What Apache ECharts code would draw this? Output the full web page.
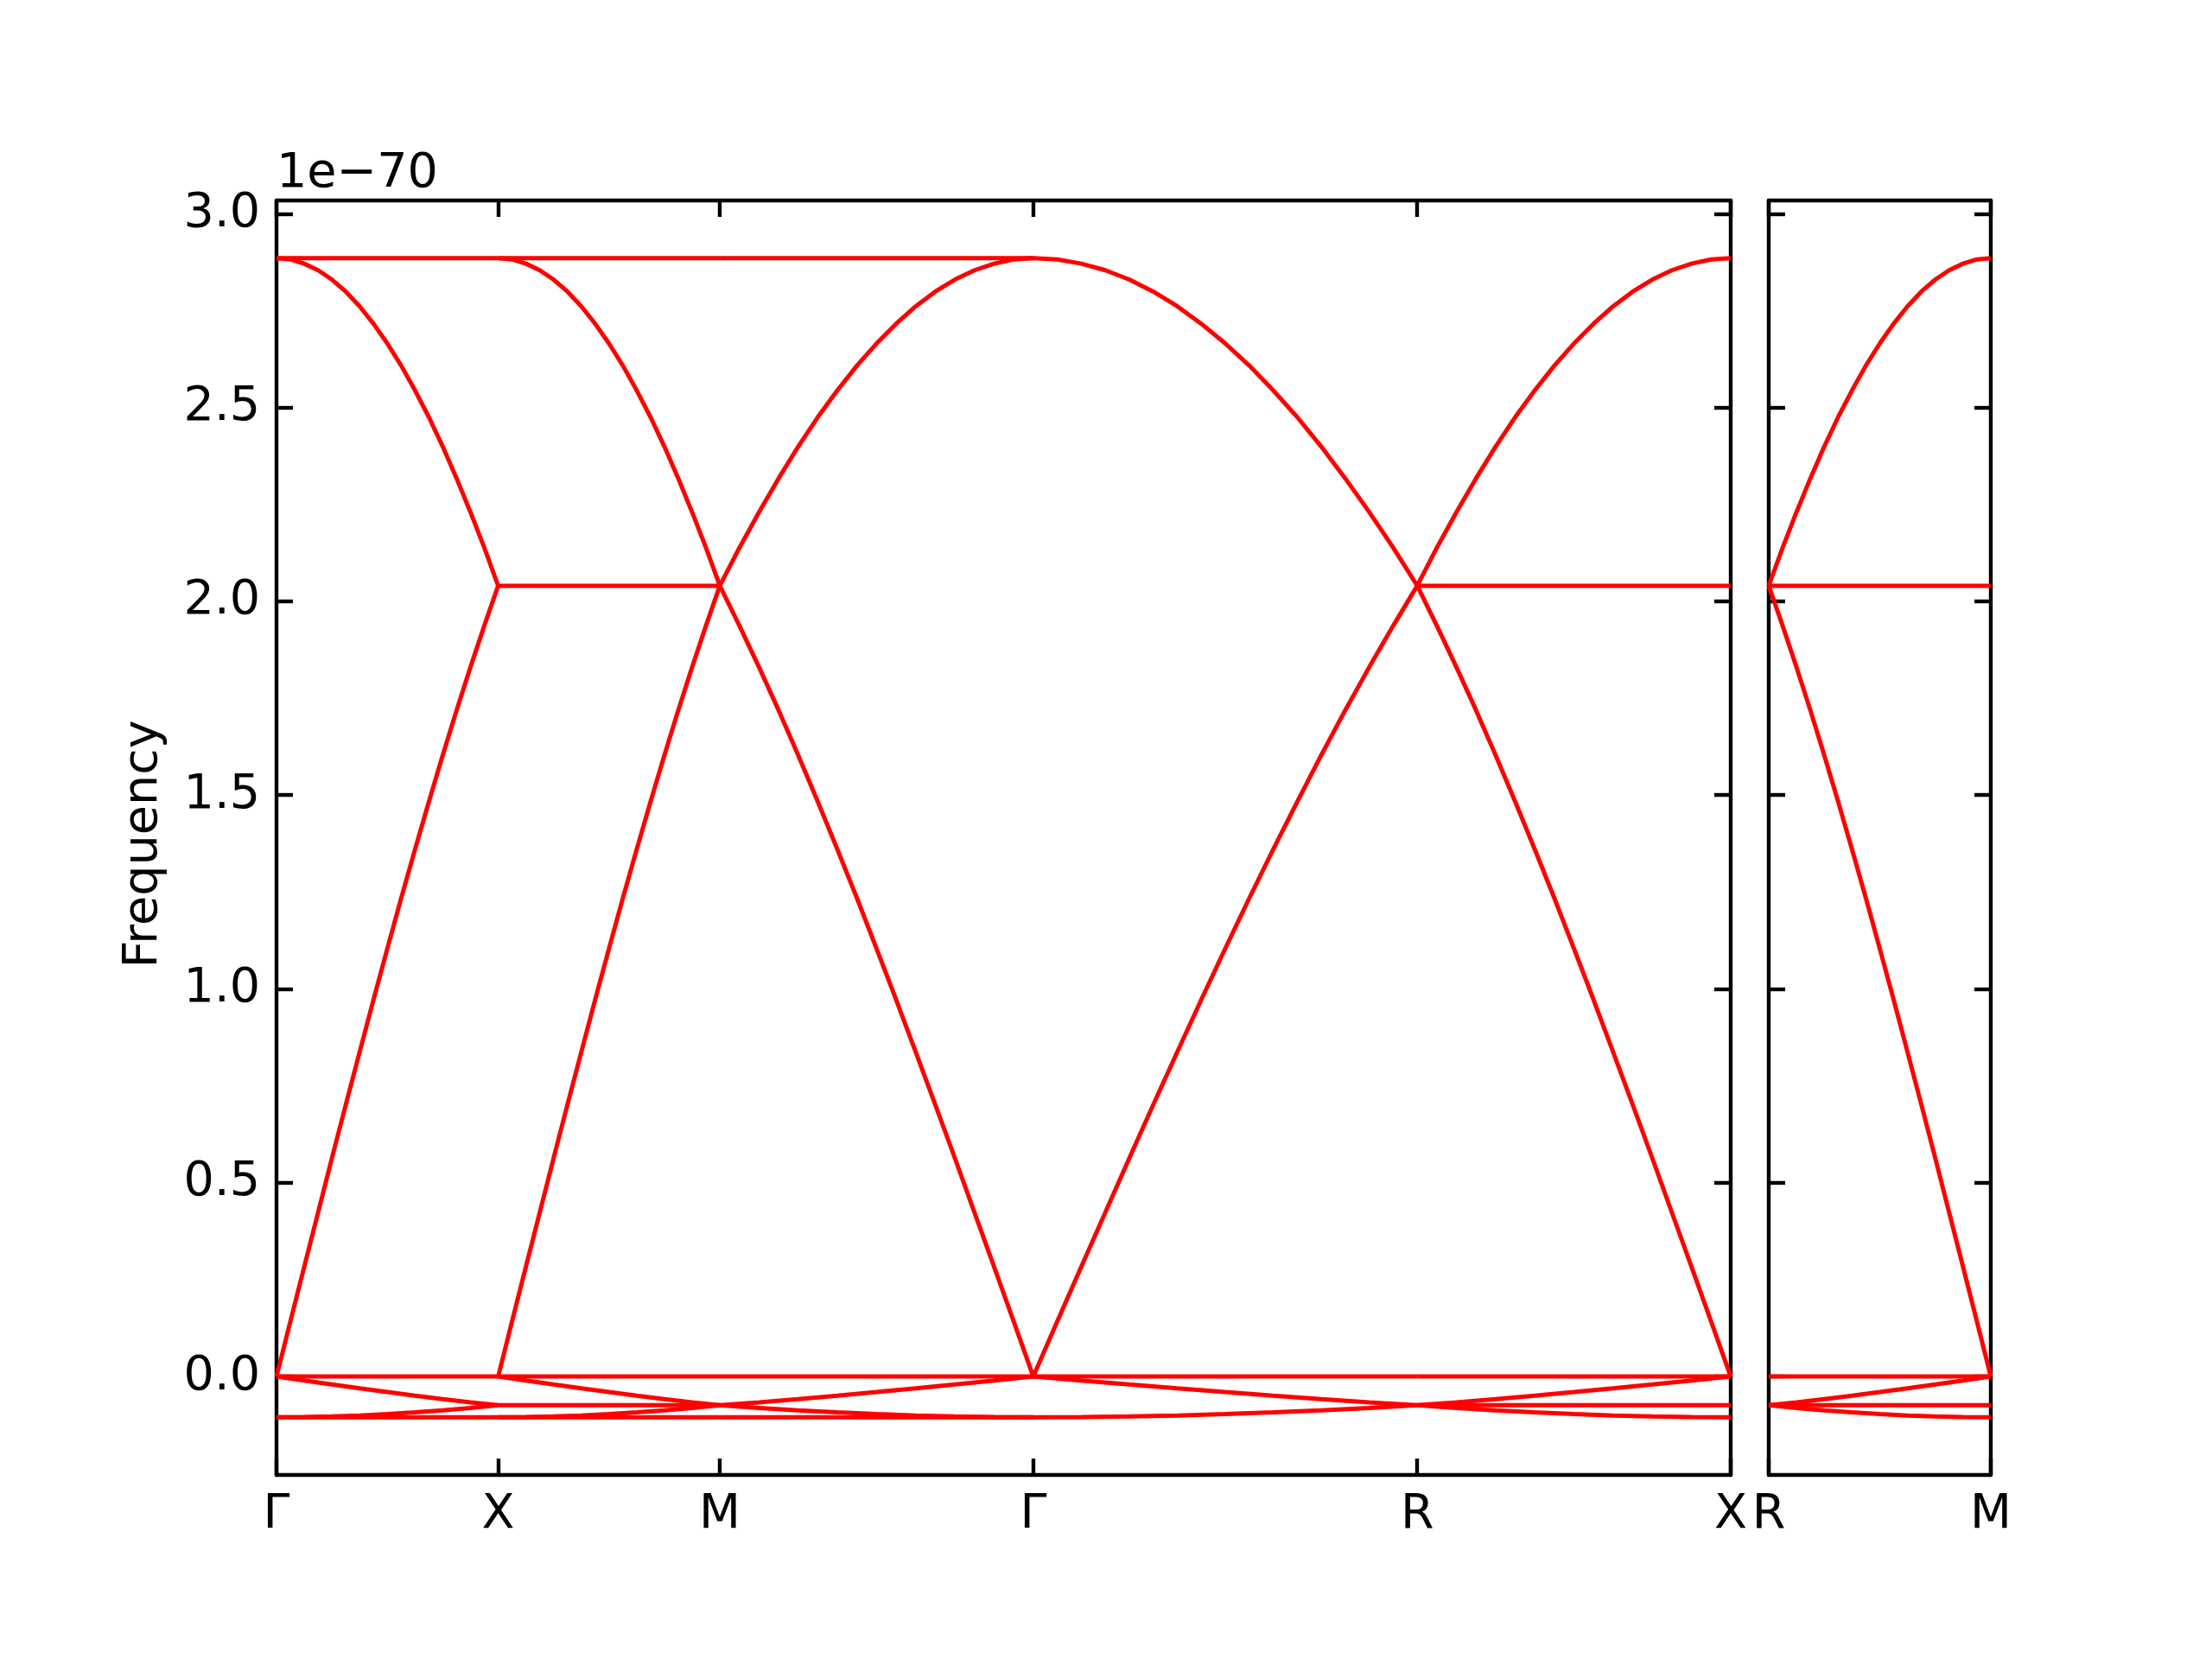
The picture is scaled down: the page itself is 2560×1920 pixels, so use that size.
<!DOCTYPE html>
<html>
<head>
<meta charset="utf-8">
<script src="https://cdn.jsdelivr.net/npm/echarts@6/dist/echarts.min.js"></script>
<style>
html,body{margin:0;padding:0;background:#fff;}
#chart{width:2560px;height:1920px;}
</style>
</head>
<body>
<div id="chart"></div>
<script>
// ---- tick positions / labels (path distance in units of pi/a) ----
const ticksLeft = [0, 1, 2, 3.4142, 5.1463, 6.5605];
const labelsLeft = ['Γ', 'X', 'M', 'Γ', 'R', 'X'];
const ticksRight = [0, 1];
const labelsRight = ['R', 'M'];
const yTicks = [0, 0.5, 1.0, 1.5, 2.0, 2.5, 3.0];

// ---- band shapes read along one segment (units of 1e-70) ----
const upRise = [0, 0.142, 0.283, 0.423, 0.563, 0.701, 0.837, 0.972, 1.104, 1.234, 1.360, 1.483, 1.603, 1.719, 1.830, 1.937, 2.040];
const upFall = [2.885, 2.882, 2.871, 2.854, 2.830, 2.799, 2.761, 2.716, 2.665, 2.608, 2.544, 2.475, 2.399, 2.317, 2.230, 2.138, 2.040];
const loDrop = [0, -0.0103, -0.0205, -0.0305, -0.0402, -0.0495, -0.0583, -0.0666, -0.0742];
const loRise = [-0.105, -0.1045, -0.1030, -0.1005, -0.0970, -0.0926, -0.0873, -0.0812, -0.0742];

// ---- bands per segment: shape name ('-' = reversed) or flat level ----
const bandsGX = ['upRise', 'upFall', 'loDrop', 'loRise', 2.885, 0, -0.105];
const bandsXM = ['upRise', 'upFall', 'loDrop', 'loRise', 2.885, 2.040, 0, -0.0742, -0.105];
const bandsMG = ['-upRise', '-upFall', '-loDrop', '-loRise', 2.885, 0, -0.105];
const bandsGR = ['upRise', 'upFall', 'loDrop', 'loRise', 0];
const bandsRX = ['-upRise', '-upFall', '-loDrop', '-loRise', 2.040, 0, -0.0742];
const bandsRM = ['-upRise', '-upFall', '-loDrop', '-loRise', 2.040, 0, -0.0742];

const shapes = { upRise, upFall, loDrop, loRise };
const segments = [
  { panel: 0, from: 0, to: 1, bands: bandsGX },
  { panel: 0, from: 1, to: 2, bands: bandsXM },
  { panel: 0, from: 2, to: 3, bands: bandsMG },
  { panel: 0, from: 3, to: 4, bands: bandsGR },
  { panel: 0, from: 4, to: 5, bands: bandsRX },
  { panel: 1, from: 0, to: 1, bands: bandsRM }
];

const series = [];
segments.forEach(seg => {
  const ticks = seg.panel === 0 ? ticksLeft : ticksRight;
  const x0 = ticks[seg.from], x1 = ticks[seg.to];
  seg.bands.forEach(b => {
    let vals;
    if (typeof b === 'number') {
      vals = [b, b];
    } else {
      const rev = b.charAt(0) === '-';
      const s = shapes[rev ? b.slice(1) : b];
      vals = rev ? s.slice().reverse() : s.slice();
    }
    const n = vals.length;
    const data = vals.map((v, i) => [x0 + (x1 - x0) * i / (n - 1), v]);
    series.push({
      type: 'line',
      xAxisIndex: seg.panel === 0 ? 0 : 2,
      yAxisIndex: seg.panel === 0 ? 0 : 2,
      data: data,
      symbol: 'none',
      showSymbol: false,
      silent: true,
      clip: true,
      lineStyle: { color: '#ff0000', width: 5 },
      z: 2
    });
  });
});

const FONT = '"DejaVu Sans", sans-serif';
const FS = 55.6;
const LW = 4.4;

function nearestLabel(ticks, labels, v) {
  let best = 0, bd = Infinity;
  ticks.forEach((t, i) => { const d = Math.abs(t - v); if (d < bd) { bd = d; best = i; } });
  return labels[best];
}

function xAxisDef(grid, ticks, labels, pos, showLabels) {
  return {
    gridIndex: grid, type: 'value', position: pos,
    min: ticks[0], max: ticks[ticks.length - 1],
    axisLine: { show: true, onZero: false, lineStyle: { color: '#000', width: LW } },
    axisTick: { show: true, inside: true, length: 19, customValues: ticks, lineStyle: { color: '#000', width: LW } },
    axisLabel: {
      show: showLabels, customValues: ticks, margin: 19,
      fontSize: FS, fontFamily: FONT, color: '#000',
      showMinLabel: true, showMaxLabel: true, hideOverlap: false,
      formatter: v => nearestLabel(ticks, labels, v)
    },
    splitLine: { show: false }
  };
}
function yAxisDef(grid, pos, showLabels) {
  return {
    gridIndex: grid, type: 'value', position: pos,
    min: -0.254, max: 3.034,
    axisLine: { show: true, onZero: false, lineStyle: { color: '#000', width: LW } },
    axisTick: { show: true, inside: true, length: 19, customValues: yTicks, lineStyle: { color: '#000', width: LW } },
    axisLabel: {
      show: showLabels, customValues: yTicks, margin: 19,
      fontSize: FS, fontFamily: FONT, color: '#000',
      showMinLabel: true, showMaxLabel: true, hideOverlap: false,
      formatter: v => v.toFixed(1)
    },
    splitLine: { show: false }
  };
}

const chart = echarts.init(document.getElementById('chart'), null, { renderer: 'canvas', width: 2560, height: 1920 });
chart.setOption({
  backgroundColor: '#ffffff',
  animation: false,
  grid: [
    { left: 320, top: 232, width: 1683, height: 1475, containLabel: false },
    { left: 2047, top: 232, width: 257, height: 1475, containLabel: false }
  ],
  xAxis: [
    xAxisDef(0, ticksLeft, labelsLeft, 'bottom', true),
    xAxisDef(0, ticksLeft, labelsLeft, 'top', false),
    xAxisDef(1, ticksRight, labelsRight, 'bottom', true),
    xAxisDef(1, ticksRight, labelsRight, 'top', false)
  ],
  yAxis: [
    yAxisDef(0, 'left', true),
    yAxisDef(0, 'right', false),
    yAxisDef(1, 'left', false),
    yAxisDef(1, 'right', false)
  ],
  graphic: [
    {
      type: 'text', x: 167, y: 977, rotation: Math.PI / 2,
      style: { text: 'Frequency', fontSize: FS, fontFamily: FONT, fill: '#000', textAlign: 'center', textVerticalAlign: 'middle' }
    },
    {
      type: 'text', x: 320, y: 202,
      style: { text: '1e\u221270', fontSize: FS, fontFamily: FONT, fill: '#000', textAlign: 'left', textVerticalAlign: 'middle' }
    }
  ],
  series: series
});
</script>
</body>
</html>
